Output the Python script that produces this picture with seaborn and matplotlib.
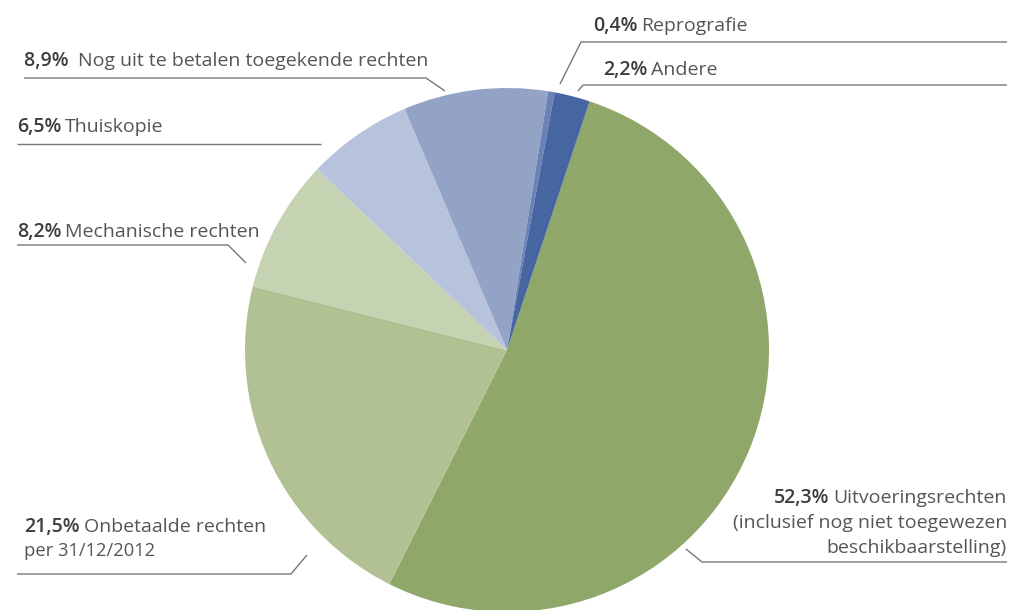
import matplotlib
matplotlib.use("Agg")
import matplotlib.pyplot as plt
import seaborn as sns

# share of distributed rights (clockwise from the top, starting with the big green slice)
categories = [
    "Uitvoeringsrechten",
    "Onbetaalde rechten",
    "Mechanische rechten",
    "Thuiskopie",
    "Nog uit te betalen toegekende rechten",
    "Reprografie",
    "Andere",
]
shares = [52.3, 21.5, 8.2, 6.5, 8.9, 0.4, 2.2]
pct_labels = ["52,3%", "21,5%", "8,2%", "6,5%", "8,9%", "0,4%", "2,2%"]
colors = ["#8fa769", "#b1c194", "#c6d3b3", "#b7c3dc", "#93a3c6", "#6b82b6", "#4765a0"]

sns.set_theme(style="white")
plt.rcParams["font.family"] = ["Open Sans", "DejaVu Sans"]

W, H = 1010, 610
fig = plt.figure(figsize=(W / 100, H / 100), dpi=100)
ax = fig.add_axes([0, 0, 1, 1])

ax.pie(shares, colors=colors, startangle=71.6, counterclock=False,
       center=(507, H - 350), radius=262,
       wedgeprops=dict(linewidth=0, antialiased=True))

# pie() resets the limits, so put the pixel frame back afterwards
ax.set_xlim(0, W)
ax.set_ylim(0, H)
ax.set_aspect("equal")
ax.axis("off")

TXT = "#555555"
PCT = "#3d3d3d"
LINE = "#777777"
FS = 14

renderer = fig.canvas.get_renderer()


def px(y):
    return H - y


def label(x, y, pct, text, ha="left", fs=FS, gap=""):
    # bold percentage followed by a regular caption on the same baseline
    if ha == "left":
        t = ax.text(x, px(y), pct + gap, fontsize=fs, fontweight="semibold",
                    color=PCT, ha="left", va="baseline")
        bb = t.get_window_extent(renderer)
        ax.text(x + bb.width + 4, px(y), text, fontsize=fs, color=TXT,
                ha="left", va="baseline")
    else:
        t = ax.text(x, px(y), text, fontsize=fs, color=TXT,
                    ha="right", va="baseline")
        bb = t.get_window_extent(renderer)
        ax.text(x - bb.width - 4, px(y), pct, fontsize=fs, fontweight="semibold",
                color=PCT, ha="right", va="baseline")


def leader(points):
    xs = [p[0] for p in points]
    ys = [px(p[1]) for p in points]
    ax.plot(xs, ys, color=LINE, lw=1.0, solid_capstyle="butt")


# Reprografie
label(593, 31, pct_labels[5], categories[5])
leader([(1007, 42), (581, 42), (560, 84)])

# Andere
label(603, 75, pct_labels[6], categories[6])
leader([(1007, 85), (583, 85), (578, 91)])

# Nog uit te betalen
label(24, 66, pct_labels[4], categories[4], gap=" ")
leader([(24, 78), (426, 78), (445, 91)])

# Thuiskopie
label(17, 132, pct_labels[3], categories[3])
leader([(17, 144), (321, 144)])

# Mechanische rechten
label(17, 237, pct_labels[2], categories[2])
leader([(17, 245), (228, 245), (246, 263)])

# Onbetaalde rechten
label(24, 532, pct_labels[1], categories[1])
ax.text(24, px(556), "per 31/12/2012", fontsize=13.2, color=TXT,
        ha="left", va="baseline")
leader([(17, 574), (291, 574), (307, 555)])

# Uitvoeringsrechten
label(1007, 503, pct_labels[0], categories[0], ha="right")
ax.text(1007, px(528), "(inclusief nog niet toegewezen", fontsize=FS,
        color=TXT, ha="right", va="baseline")
ax.text(1007, px(553), "beschikbaarstelling)", fontsize=FS,
        color=TXT, ha="right", va="baseline")
leader([(1007, 562), (702, 562), (686, 549)])

fig.savefig("out.png", dpi=100, facecolor="white")
